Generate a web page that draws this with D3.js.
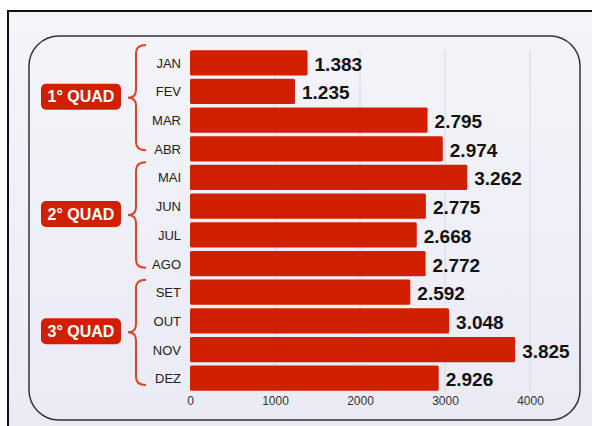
<!DOCTYPE html>
<html>
<head>
<meta charset="utf-8">
<script src="https://cdn.jsdelivr.net/npm/d3@7"></script>
<style>
  body { margin: 0; background: #fff; }
  text { font-family: "Liberation Sans", Arial, sans-serif; }
</style>
</head>
<body>
<div id="chart"></div>
<script>
const months = ["JAN", "FEV", "MAR", "ABR", "MAI", "JUN", "JUL", "AGO", "SET", "OUT", "NOV", "DEZ"];
const values = [1383, 1235, 2795, 2974, 3262, 2775, 2668, 2772, 2592, 3048, 3825, 2926];
const groups = ["1° QUAD", "2° QUAD", "3° QUAD"];
const groupMonths = [["JAN", "ABR"], ["MAI", "AGO"], ["SET", "DEZ"]];
const xTicks = [0, 1000, 2000, 3000, 4000];

const w = 592, h = 426;
const red = "#d02000";

const svg = d3.select("#chart").append("svg")
    .attr("width", w)
    .attr("height", h);

const defs = svg.append("defs");
const grad = defs.append("linearGradient")
    .attr("id", "bg")
    .attr("x1", 0).attr("y1", 0).attr("x2", 0).attr("y2", 1);
grad.append("stop").attr("offset", "0%").attr("stop-color", "#f4f4f9");
grad.append("stop").attr("offset", "100%").attr("stop-color", "#eaeaf6");

// outer frame
svg.append("rect")
    .attr("x", 8).attr("y", 11)
    .attr("width", 620).attr("height", 440)
    .attr("fill", "url(#bg)")
    .attr("stroke", "#111")
    .attr("stroke-width", 2);

// inner rounded box
svg.append("rect")
    .attr("x", 29).attr("y", 36)
    .attr("width", 551).attr("height", 384)
    .attr("rx", 30)
    .attr("fill", "none")
    .attr("stroke", "#333")
    .attr("stroke-width", 1.5);

const x = d3.scaleLinear().domain([0, 4000]).range([190, 530]);
const y = d3.scaleBand().domain(months).range([49, 392]).paddingInner(0.12).paddingOuter(0.04);
// scale used for the group braces / labels
const yg = d3.scaleBand().domain(months).range([38, 390]);

const fmt = d3.formatLocale({decimal: ",", thousands: ".", grouping: [3], currency: ["R$", ""]}).format(",");

// grid
svg.append("g")
    .selectAll("line")
    .data(xTicks.slice(1))
    .enter()
    .append("line")
    .attr("x1", d => x(d)).attr("x2", d => x(d))
    .attr("y1", 50).attr("y2", 392)
    .attr("stroke", "#d8d8e2")
    .attr("stroke-width", 1);

// x axis labels
const xAxis = svg.append("g")
    .attr("transform", "translate(0,396)")
    .call(d3.axisBottom(x).tickValues(xTicks).tickFormat(d3.format("d")).tickSize(0).tickPadding(0));
xAxis.select(".domain").remove();
xAxis.selectAll("text")
    .attr("font-size", 12)
    .attr("fill", "#333")
    .attr("font-family", "Liberation Sans, Arial, sans-serif");

// bars
svg.append("g")
    .selectAll("rect")
    .data(values)
    .enter()
    .append("rect")
    .attr("x", x(0))
    .attr("y", (d, i) => y(months[i]))
    .attr("width", d => x(d) - x(0))
    .attr("height", y.bandwidth())
    .attr("rx", 1.5)
    .attr("fill", red);

// value labels
svg.append("g")
    .selectAll("text")
    .data(values)
    .enter()
    .append("text")
    .attr("x", d => x(d) + 7)
    .attr("y", (d, i) => y(months[i]) + y.bandwidth() / 2 + 8)
    .attr("font-size", 19)
    .attr("font-weight", "bold")
    .attr("fill", "#111")
    .text(d => fmt(d));

// month labels
svg.append("g")
    .selectAll("text")
    .data(months)
    .enter()
    .append("text")
    .attr("x", 181)
    .attr("y", d => y(d) + y.bandwidth() / 2 + 5)
    .attr("text-anchor", "end")
    .attr("font-size", 13)
    .attr("fill", "#222")
    .text(d => d);

// braces
function brace(y0, y1) {
  const xm = 136, xt = 128, xe = 146, r = 8;
  const ym = (y0 + y1) / 2;
  return `M${xe},${y0} Q${xm},${y0} ${xm},${y0 + r}` +
         ` L${xm},${ym - r} Q${xm},${ym} ${xt},${ym}` +
         ` Q${xm},${ym} ${xm},${ym + r}` +
         ` L${xm},${y1 - r} Q${xm},${y1} ${xe},${y1}`;
}

const g = svg.append("g")
    .selectAll("g")
    .data(groups)
    .enter()
    .append("g");

g.append("path")
    .attr("d", (d, i) => brace(yg(groupMonths[i][0]) + 7, yg(groupMonths[i][1]) + yg.bandwidth() - 5))
    .attr("fill", "none")
    .attr("stroke", "#d8452a")
    .attr("stroke-width", 2);

g.append("rect")
    .attr("x", 41)
    .attr("y", (d, i) => (yg(groupMonths[i][0]) + yg(groupMonths[i][1]) + yg.bandwidth()) / 2 - 13)
    .attr("width", 80)
    .attr("height", 26)
    .attr("rx", 5)
    .attr("fill", red);

g.append("text")
    .attr("x", 81)
    .attr("y", (d, i) => (yg(groupMonths[i][0]) + yg(groupMonths[i][1]) + yg.bandwidth()) / 2 + 5.5)
    .attr("text-anchor", "middle")
    .attr("font-size", 16)
    .attr("font-weight", "bold")
    .attr("fill", "#fff")
    .text(d => d);
</script>
</body>
</html>
